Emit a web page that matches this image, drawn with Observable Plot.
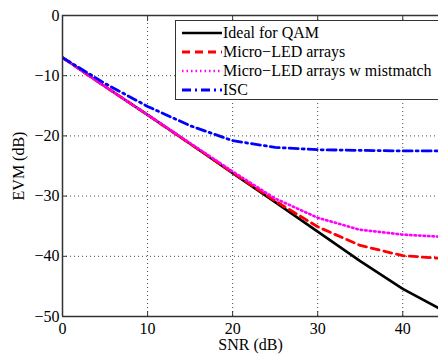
<!DOCTYPE html>
<html>
<head>
<meta charset="utf-8">
<script src="https://cdn.jsdelivr.net/npm/d3@7"></script>
<script src="https://cdn.jsdelivr.net/npm/@observablehq/plot@0.6"></script>
<style>
  body { margin: 0; background: #fff; }
  #wrap { position: relative; width: 438px; height: 354px; overflow: hidden; font-family: "Liberation Serif", "Times New Roman", Times, "DejaVu Serif", serif; }
  #chart svg, #chart svg text { font-family: "Liberation Serif", "Times New Roman", Times, "DejaVu Serif", serif !important; }
  #legend { position: absolute; left: 175px; top: 20px; width: 300px; height: 78px; border: 1.5px solid #333; background: #fff; }
  #legend .row { position: absolute; left: 0; height: 19px; display: flex; align-items: center; font-size: 16px; color: #000; white-space: nowrap; }
  #legend svg { margin-left: 6px; margin-right: 1px; }
</style>
</head>
<body>
<div id="wrap"><div id="chart"></div><div id="legend"></div></div>
<script>
const snr = [0, 5, 10, 15, 20, 25, 30, 35, 40, 45];
const ideal = [-7, -11.8, -16.5, -21.3, -26.2, -31.0, -35.9, -40.8, -45.4, -49.2];
const microLED = [-7, -11.8, -16.5, -21.3, -26.1, -30.8, -35.1, -38.2, -39.9, -40.4];
const mismatch = [-7, -11.8, -16.5, -21.2, -25.9, -30.4, -33.6, -35.6, -36.4, -36.8];
const isc = [-7, -11.3, -15.1, -18.3, -20.8, -21.9, -22.3, -22.4, -22.5, -22.5];

const seriesNames = ["Ideal for QAM", "Micro\u2212LED arrays", "Micro\u2212LED arrays w mistmatch", "ISC"];
const seriesColors = ["#000000", "#ff0000", "#ff00ff", "#0000ff"];
const seriesDash = [null, "8,5", "1.5,3", "9,4,2,4"];
const seriesWidth = [2.6, 2.8, 2.6, 2.8];
const seriesValues = [ideal, microLED, mismatch, isc];

const xTicks = [0, 10, 20, 30, 40];
const yTicks = [0, -10, -20, -30, -40, -50];
const xDomain = [0, 44.2];
const yDomain = [-50, 0];

const rows = [];
seriesValues.forEach((vals, k) => snr.forEach((s, i) => rows.push({series: seriesNames[k], k, snr: s, evm: vals[i]})));

const lines = seriesNames.map((name, k) =>
  Plot.line(rows.filter(r => r.k === k), {
    x: "snr", y: "evm", stroke: seriesColors[k], strokeWidth: seriesWidth[k],
    strokeDasharray: seriesDash[k], clip: true, strokeLinejoin: "round"
  })
);

const fontStack = "'Liberation Serif', 'Times New Roman', Times, 'DejaVu Serif', serif";

const chart = Plot.plot({
  width: 438, height: 354,
  marginLeft: 62, marginRight: 0, marginTop: 15, marginBottom: 38,
  style: {fontFamily: fontStack, fontSize: "16px", color: "#000", background: "#fff"},
  x: {domain: xDomain, ticks: xTicks},
  y: {domain: yDomain, ticks: yTicks},
  marks: [
    Plot.gridX(xTicks.filter(t => t > 0), {stroke: "#333", strokeOpacity: 0.9, strokeDasharray: "1,3"}),
    Plot.gridY(yTicks.filter(t => t > -50 && t < 0), {stroke: "#333", strokeOpacity: 0.9, strokeDasharray: "1,3"}),
    ...lines,
    Plot.ruleY(yDomain, {stroke: "#333", strokeWidth: 1.5}),
    Plot.ruleX([xDomain[0]], {stroke: "#333", strokeWidth: 1.5}),
    Plot.axisX(xTicks, {anchor: "bottom", tickSize: -5, text: null, label: null, stroke: "#333"}),
    Plot.axisX(xTicks, {anchor: "top", tickSize: -5, text: null, label: null, stroke: "#333"}),
    Plot.axisY(yTicks, {anchor: "left", tickSize: -5, text: null, label: null, stroke: "#333"}),
    Plot.axisX(xTicks, {anchor: "bottom", tickSize: 0, tickPadding: 6, label: null, fill: "#000", fontFamily: fontStack}),
    Plot.axisX({anchor: "bottom", ticks: [], label: "SNR (dB)", labelAnchor: "center", labelArrow: "none", labelOffset: 33, fill: "#000", fontFamily: fontStack}),
    Plot.axisY(yTicks, {anchor: "left", tickSize: 0, tickPadding: 3, label: "EVM (dB)", labelAnchor: "center", labelArrow: "none", labelOffset: 50, fill: "#000", fontFamily: fontStack})
  ]
});
document.getElementById("chart").appendChild(chart);

const legend = document.getElementById("legend");
seriesNames.forEach((name, k) => {
  const row = document.createElement("div");
  row.className = "row";
  row.style.top = (2 + k * 19) + "px";
  const dash = seriesDash[k] ? ` stroke-dasharray="${seriesDash[k]}"` : "";
  row.innerHTML = `<svg width="40" height="6"><line x1="0" y1="3" x2="40" y2="3" stroke="${seriesColors[k]}" stroke-width="${seriesWidth[k]}"${dash}/></svg><span>${name}</span>`;
  legend.appendChild(row);
});
</script>
</body>
</html>
